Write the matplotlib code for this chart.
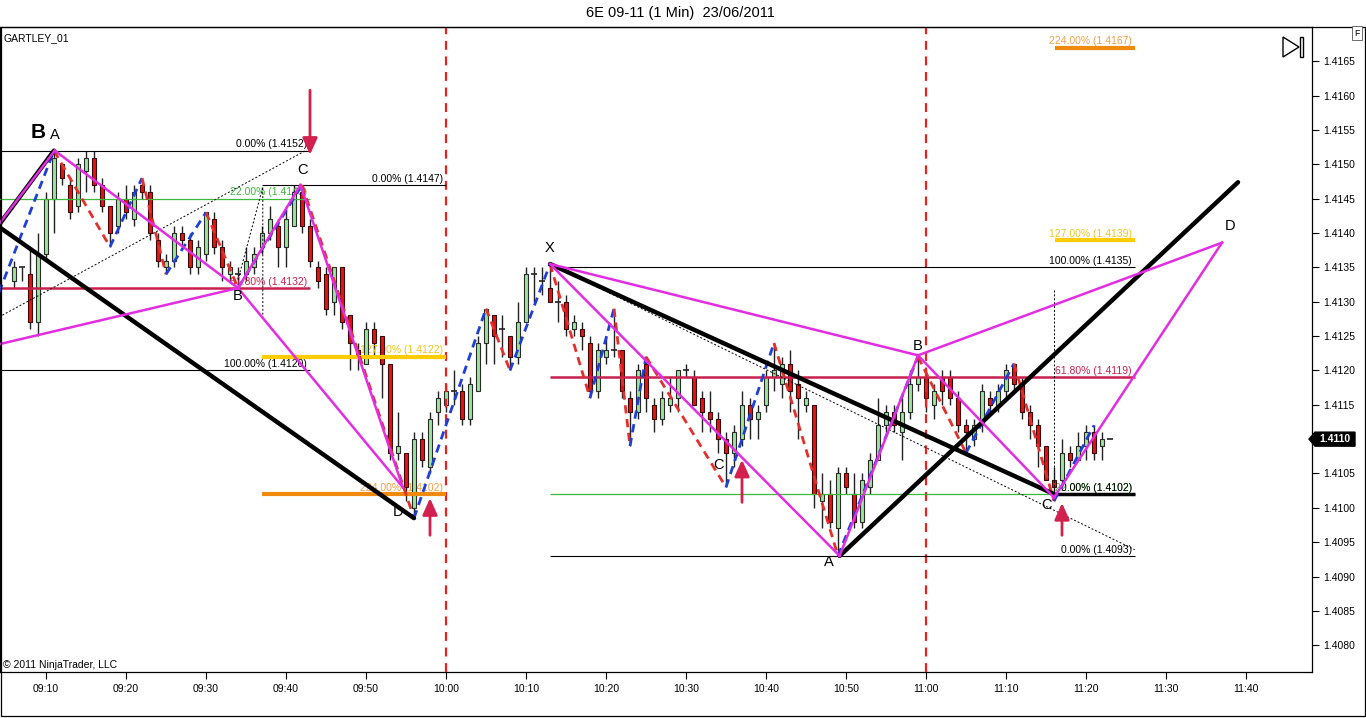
import numpy as np
import matplotlib.pyplot as plt
from matplotlib.patches import Polygon, Rectangle

plt.rcParams['font.family'] = ['Liberation Sans', 'DejaVu Sans']

W, H = 1366, 718

title = '6E 09-11 (1 Min)  23/06/2011'
indicator_name = 'GARTLEY_01'
copyright_txt = '\u00a9 2011 NinjaTrader, LLC'
last_price = 1.4110

# one minute bars, first one at 09:06
first_bar = '09:06'
opens = [1.4133, 1.4135, 1.4134, 1.4127, 1.4137, 1.4145, 1.4150, 1.4147, 1.4144, 1.4149,
         1.4151, 1.4147, 1.4144, 1.4141, 1.4145, 1.4142, 1.4147, 1.4146, 1.4139, 1.4135,
         1.4136, 1.4140, 1.4139, 1.4135, 1.4137, 1.4142, 1.4138, 1.4134, 1.4134, 1.4134,
         1.4135, 1.4138, 1.4140, 1.4141, 1.4138, 1.4141, 1.4146, 1.4141, 1.4135, 1.4134,
         1.4130, 1.4135, 1.4128, 1.4123, 1.4121, 1.4126, 1.4125, 1.4121, 1.4108, 1.4108,
         1.4100, 1.4110, 1.4106, 1.4114, 1.4115, 1.4117, 1.4117, 1.4113, 1.4117, 1.4124,
         1.4128, 1.4126, 1.4125, 1.4122, 1.4127, 1.4134, 1.4133, 1.4132, 1.4130, 1.4130,
         1.4126, 1.4126, 1.4124, 1.4117, 1.4122, 1.4123, 1.4123, 1.4116, 1.4114, 1.4121,
         1.4115, 1.4113, 1.4115, 1.4116, 1.4120, 1.4119, 1.4116, 1.4114, 1.4113, 1.4110,
         1.4108, 1.4110, 1.4115, 1.4113, 1.4115, 1.4119, 1.4118, 1.4121, 1.4118, 1.4115,
         1.4115, 1.4101, 1.4102, 1.4097, 1.4105, 1.4102, 1.4098, 1.4103, 1.4107, 1.4112,
         1.4114, 1.4111, 1.4114, 1.4118, 1.4119, 1.4115, 1.4119, 1.4119, 1.4116, 1.4112,
         1.4110, 1.4112, 1.4116, 1.4115, 1.4117, 1.4121, 1.4118, 1.4114, 1.4112, 1.4109,
         1.4104, 1.4104, 1.4108, 1.4107, 1.4109, 1.4111, 1.4109, 1.4110]
highs = [1.4136, 1.4135, 1.4138, 1.4140, 1.4146, 1.4152, 1.4150, 1.4148, 1.4151, 1.4152,
         1.4152, 1.4148, 1.4144, 1.4146, 1.4147, 1.4147, 1.4148, 1.4147, 1.4140, 1.4137,
         1.4141, 1.4141, 1.4140, 1.4139, 1.4143, 1.4143, 1.4139, 1.4136, 1.4135, 1.4138,
         1.4138, 1.4141, 1.4144, 1.4142, 1.4144, 1.4147, 1.4147, 1.4142, 1.4136, 1.4135,
         1.4135, 1.4135, 1.4128, 1.4124, 1.4127, 1.4127, 1.4125, 1.4121, 1.4114, 1.4108,
         1.4111, 1.4111, 1.4114, 1.4117, 1.4118, 1.4120, 1.4118, 1.4119, 1.4125, 1.4129,
         1.4128, 1.4128, 1.4125, 1.4130, 1.4135, 1.4135, 1.4135, 1.4135, 1.4133, 1.4131,
         1.4128, 1.4127, 1.4125, 1.4124, 1.4125, 1.4129, 1.4123, 1.4117, 1.4121, 1.4122,
         1.4116, 1.4117, 1.4119, 1.4120, 1.4121, 1.4120, 1.4117, 1.4117, 1.4114, 1.4111,
         1.4112, 1.4117, 1.4116, 1.4115, 1.4120, 1.4124, 1.4122, 1.4123, 1.4120, 1.4117,
         1.4115, 1.4105, 1.4104, 1.4106, 1.4106, 1.4105, 1.4105, 1.4108, 1.4116, 1.4115,
         1.4115, 1.4116, 1.4120, 1.4122, 1.4120, 1.4118, 1.4120, 1.4120, 1.4117, 1.4113,
         1.4113, 1.4118, 1.4117, 1.4118, 1.4121, 1.4121, 1.4119, 1.4115, 1.4113, 1.4109,
         1.4106, 1.4110, 1.4109, 1.4111, 1.4112, 1.4112, 1.4111, 1.4110]
lows = [1.4132, 1.4133, 1.4126, 1.4125, 1.4136, 1.4140, 1.4147, 1.4142, 1.4143, 1.4146,
        1.4146, 1.4143, 1.4138, 1.4140, 1.4142, 1.4141, 1.4145, 1.4139, 1.4135, 1.4134,
        1.4135, 1.4138, 1.4134, 1.4134, 1.4136, 1.4137, 1.4133, 1.4133, 1.4132, 1.4133,
        1.4134, 1.4137, 1.4139, 1.4135, 1.4135, 1.4141, 1.4140, 1.4135, 1.4132, 1.4128,
        1.4128, 1.4126, 1.4120, 1.4120, 1.4121, 1.4122, 1.4116, 1.4107, 1.4107, 1.4101,
        1.4099, 1.4106, 1.4105, 1.4112, 1.4114, 1.4115, 1.4112, 1.4112, 1.4117, 1.4121,
        1.4121, 1.4122, 1.4120, 1.4121, 1.4127, 1.4130, 1.4131, 1.4130, 1.4127, 1.4125,
        1.4125, 1.4123, 1.4116, 1.4116, 1.4121, 1.4122, 1.4116, 1.4109, 1.4113, 1.4114,
        1.4111, 1.4112, 1.4114, 1.4114, 1.4119, 1.4115, 1.4111, 1.4111, 1.4108, 1.4103,
        1.4106, 1.4109, 1.4110, 1.4110, 1.4114, 1.4117, 1.4116, 1.4114, 1.4110, 1.4114,
        1.4100, 1.4097, 1.4097, 1.4093, 1.4102, 1.4097, 1.4097, 1.4102, 1.4107, 1.4111,
        1.4111, 1.4107, 1.4113, 1.4117, 1.4114, 1.4113, 1.4115, 1.4115, 1.4111, 1.4108,
        1.4109, 1.4111, 1.4114, 1.4114, 1.4116, 1.4117, 1.4113, 1.4110, 1.4106, 1.4104,
        1.4101, 1.4103, 1.4106, 1.4107, 1.4107, 1.4107, 1.4107, 1.4110]
closes = [1.4135, 1.4135, 1.4127, 1.4137, 1.4145, 1.4151, 1.4148, 1.4143, 1.4150, 1.4151,
          1.4147, 1.4144, 1.4140, 1.4145, 1.4143, 1.4146, 1.4146, 1.4140, 1.4136, 1.4136,
          1.4140, 1.4139, 1.4135, 1.4138, 1.4143, 1.4138, 1.4135, 1.4135, 1.4134, 1.4136,
          1.4137, 1.4140, 1.4142, 1.4138, 1.4142, 1.4146, 1.4141, 1.4136, 1.4133, 1.4129,
          1.4135, 1.4127, 1.4124, 1.4122, 1.4126, 1.4124, 1.4121, 1.4108, 1.4109, 1.4103,
          1.4110, 1.4107, 1.4113, 1.4116, 1.4117, 1.4117, 1.4113, 1.4118, 1.4124, 1.4129,
          1.4125, 1.4126, 1.4122, 1.4127, 1.4134, 1.4134, 1.4133, 1.4130, 1.4130, 1.4126,
          1.4127, 1.4125, 1.4117, 1.4123, 1.4123, 1.4123, 1.4117, 1.4114, 1.4120, 1.4116,
          1.4113, 1.4116, 1.4116, 1.4120, 1.4120, 1.4115, 1.4114, 1.4113, 1.4110, 1.4108,
          1.4111, 1.4115, 1.4113, 1.4114, 1.4119, 1.4120, 1.4121, 1.4117, 1.4116, 1.4116,
          1.4102, 1.4102, 1.4098, 1.4105, 1.4103, 1.4098, 1.4104, 1.4107, 1.4112, 1.4114,
          1.4112, 1.4114, 1.4118, 1.4119, 1.4116, 1.4117, 1.4117, 1.4116, 1.4112, 1.4111,
          1.4112, 1.4117, 1.4115, 1.4117, 1.4120, 1.4118, 1.4114, 1.4112, 1.4109, 1.4104,
          1.4103, 1.4108, 1.4107, 1.4109, 1.4111, 1.4108, 1.4110, 1.4110]

x_labels = ['09:10', '09:20', '09:30', '09:40', '09:50', '10:00', '10:10', '10:20',
            '10:30', '10:40', '10:50', '11:00', '11:10', '11:20', '11:30', '11:40']
y_ticks = [1.4080, 1.4085, 1.4090, 1.4095, 1.4100, 1.4105, 1.4110, 1.4115, 1.4120,
           1.4125, 1.4130, 1.4135, 1.4140, 1.4145, 1.4150, 1.4155, 1.4160, 1.4165]
session_lines = ['10:00', '11:00']

# zigzag swing points
zz_times = ['09:04', '09:11', '09:18', '09:22', '09:25', '09:30', '09:34', '09:42', '09:56',
            '10:05', '10:08', '10:13', '10:18', '10:21', '10:23', '10:25', '10:35', '10:41',
            '10:49', '10:59', '11:05', '11:11', '11:16', '11:21']
zz_prices = [1.4131, 1.4152, 1.4138, 1.4148, 1.4134, 1.4143, 1.4132, 1.4147, 1.40985,
             1.4129, 1.4120, 1.41355, 1.4116, 1.4129, 1.4109, 1.4122, 1.4103, 1.4124,
             1.4093, 1.4122, 1.4108, 1.4121, 1.4101, 1.4112]

# gartley points X A B C D
left_pat_times = ['08:50.2', '09:11.1', '09:34', '09:41.8', '09:54.6']
left_pat_prices = [1.4120, 1.4152, 1.4132, 1.4147, 1.4103]
right_pat_times = ['10:13', '10:49.2', '10:59', '11:16', '11:37']
right_pat_prices = [1.41355, 1.4093, 1.41222, 1.41015, 1.41386]

# heavy black trend lines
black_lines = [(['09:11', '09:04', '09:56'], [1.4152, 1.4141, 1.40985]),
               (['10:13', '11:16'], [1.41355, 1.4102]),
               (['10:49.2', '11:39'], [1.4093, 1.41474])]

# thin dotted helper lines
dot_lines = [(['09:04', '09:42.6'], [1.41277, 1.41521]),
             (['09:34', '09:37.1', '09:37.1'], [1.41332, 1.41467, 1.41273]),
             (['10:13', '11:26.1'], [1.41355, 1.40939]),
             (['11:16', '11:16'], [1.41317, 1.41019])]

# fibonacci levels: start, end, price, text, kind
levels = [('09:04', '09:43', 1.4152, '0.00% (1.4152)', 'black'),
          ('09:04', '09:43', 1.4145, '22.00% (1.4145)', 'green'),
          ('09:04', '09:43', 1.4132, '61.80% (1.4132)', 'crimson'),
          ('09:04', '09:43', 1.4120, '100.00% (1.4120)', 'black'),
          ('09:37', '10:00', 1.4147, '0.00% (1.4147)', 'black'),
          ('09:37', '10:00', 1.4122, '127.00% (1.4122)', 'gold'),
          ('09:37', '10:00', 1.4102, '224.00% (1.4102)', 'orange'),
          ('10:13', '11:26.1', 1.4135, '100.00% (1.4135)', 'black'),
          ('10:13', '11:26.1', 1.4119, '61.80% (1.4119)', 'crimson'),
          ('10:13', '11:26.1', 1.4102, '22.00% (1.4102)', 'green'),
          ('10:13', '11:26.1', 1.4093, '0.00% (1.4093)', 'black'),
          ('11:16.1', '11:26.1', 1.4102, '0.00% (1.4102)', 'heavy'),
          ('11:16.1', '11:26.1', 1.4139, '127.00% (1.4139)', 'gold'),
          ('11:16.1', '11:26.1', 1.4167, '224.00% (1.4167)', 'orange')]

# signal arrows: time, tail price, tip price
arrows = [('09:43', 1.41608, 1.41514),
          ('09:58', 1.40960, 1.41014),
          ('10:37', 1.41008, 1.41070),
          ('11:17', 1.40960, 1.41007)]

# pattern letters
letters = [('A', '09:11.1', 1.41543), ('B', '09:34', 1.41308), ('C', '09:42', 1.41492),
           ('D', '09:54', 1.40994), ('X', '10:12.9', 1.41378), ('C', '10:34', 1.41062),
           ('A', '10:47.9', 1.40921), ('B', '10:59', 1.41236), ('C', '11:15.1', 1.41004),
           ('D', '11:38', 1.41410)]
big_letter = ('B', '09:09', 1.41546)


def tm(s):
    h, m = s.split(':')
    return int(h) * 60 + float(m)


def fx(x):
    return x / W


def fy(y):
    return 1 - y / H


level_style = {'black': ('black', 0.8, 'black'),
               'green': ('#3cb83c', 0.9, '#3cb83c'),
               'crimson': ('#c8204e', 1.8, '#c8204e'),
               'gold': ('#ffcc00', 3.0, '#f2c61a'),
               'orange': ('#f08a0c', 3.0, '#f2a048'),
               'heavy': ('black', 2.5, 'black')}

fig = plt.figure(figsize=(W / 100, H / 100), dpi=100)
ax = fig.add_axes([0, fy(672), fx(1312), (672 - 27) / H])
ax.set_xlim(544.25, 708.25)
ax.set_ylim(1.40761, 1.41700)

# candles
t = tm(first_bar) + np.arange(len(opens))
o, hi, lo, c = (np.array(v) for v in (opens, highs, lows, closes))
up, dn, dj = c > o, c < o, c == o
ax.vlines(t, lo, hi, color='#222222', lw=1, zorder=2)
ax.bar(t[up], (c - o)[up], bottom=o[up], width=0.62, color='#9ae69a',
       edgecolor='#2a2a2a', lw=0.8, zorder=2.5)
ax.bar(t[dn], (o - c)[dn], bottom=c[dn], width=0.62, color='#e31414',
       edgecolor='#3a0a0a', lw=0.8, zorder=2.5)
ax.hlines(o[dj], t[dj] - 0.32, t[dj] + 0.32, color='#222222', lw=1.2, zorder=2.5)

for s in session_lines:
    ax.axvline(tm(s), color='#e8231f', lw=1.6, ls=(0, (4, 3)), zorder=3)

# fibonacci levels
for a, b, p, txt, kind in levels:
    col, lw, tcol = level_style[kind]
    ax.plot([tm(a), tm(b)], [p, p], color=col, lw=lw, solid_capstyle='butt', zorder=3)
    ax.annotate(txt, xy=(tm(b), p), xytext=(-2, 1), textcoords='offset points',
                ha='right', va='bottom', fontsize=7.5, color=tcol, zorder=2.2)

# zigzag
zt = [tm(s) for s in zz_times]
for i in range(len(zt) - 1):
    col = '#1f3fd6' if zz_prices[i + 1] > zz_prices[i] else '#e2302c'
    ax.plot(zt[i:i + 2], zz_prices[i:i + 2], color=col, lw=2, ls=(0, (3, 2)), zorder=4)

for ts, ps in dot_lines:
    ax.plot([tm(s) for s in ts], ps, color='black', lw=0.7, ls=(0, (2, 2)), zorder=4)

for ts, ps in black_lines:
    ax.plot([tm(s) for s in ts], ps, color='black', lw=3.2, solid_capstyle='round', zorder=5)

segs = [(0, 1), (1, 2), (2, 3), (3, 4), (0, 2), (2, 4)]
for ts, ps in ((left_pat_times, left_pat_prices), (right_pat_times, right_pat_prices)):
    xs = [tm(s) for s in ts]
    for i, j in segs:
        ax.plot([xs[i], xs[j]], [ps[i], ps[j]], color='#e22de2', lw=1.8, zorder=6)

for s, p0, p1 in arrows:
    ax.annotate('', xy=(tm(s), p1), xytext=(tm(s), p0),
                arrowprops=dict(arrowstyle='-|>,head_length=1.0,head_width=0.45',
                                color='#d3214f', lw=2, shrinkA=0, shrinkB=0), zorder=7)

for txt, s, p in letters:
    ax.text(tm(s), p, txt, ha='center', va='center', fontsize=10.5, zorder=8)
ax.text(tm(big_letter[1]), big_letter[2], big_letter[0], ha='center', va='center',
        fontsize=15, fontweight='bold', zorder=8)

# axes (the last price tag replaces its own tick label)
ax.yaxis.tick_right()
ax.set_yticks(y_ticks)
ax.set_yticklabels(['' if abs(v - last_price) < 1e-9 else '%.4f' % v for v in y_ticks])
ax.set_xticks([tm(s) for s in x_labels])
ax.set_xticklabels(x_labels)
ax.tick_params(axis='y', direction='out', length=5, width=0.8, labelsize=7.5, pad=3)
ax.tick_params(axis='x', direction='out', length=5, width=0.8, labelsize=7.5, pad=4)
for sp in ax.spines.values():
    sp.set_linewidth(0.9)

# outer frame and decorations
fig.add_artist(Rectangle((fx(0.5), fy(716)), fx(1364.5), (716 - 27) / H, fill=False,
                         ec='black', lw=0.9, transform=fig.transFigure))
fig.text(fx(680), fy(13), title, ha='center', va='center', fontsize=10.5)
fig.text(fx(4), fy(38), indicator_name, ha='left', va='center', fontsize=7.5)
fig.text(fx(3), fy(665), copyright_txt, ha='left', va='center', fontsize=7.5)
fig.text(fx(1357), fy(33), 'F', ha='center', va='center', fontsize=6.5,
         bbox=dict(boxstyle='square,pad=0.25', fc='white', ec='#555555', lw=0.6))

fig.add_artist(Polygon([(fx(1283), fy(37)), (fx(1299), fy(47)), (fx(1283), fy(57))],
                       closed=True, fill=False, ec='black', lw=1, transform=fig.transFigure))
fig.add_artist(Rectangle((fx(1300), fy(57)), fx(3), 20 / H, fill=False, ec='black', lw=1,
                         transform=fig.transFigure))

# last price marker
yp = 27 + (1.41700 - last_price) / (1.41700 - 1.40761) * 645
fig.add_artist(Polygon([(fx(1309), fy(yp)), (fx(1315), fy(yp - 7)), (fx(1355), fy(yp - 7)),
                        (fx(1355), fy(yp + 7)), (fx(1315), fy(yp + 7))],
                       closed=True, fc='black', ec='black', transform=fig.transFigure, zorder=5))
fig.text(fx(1335), fy(yp), '%.4f' % last_price, ha='center', va='center', fontsize=7.5,
         color='white', fontweight='bold', zorder=6)

fig.savefig('out.png', dpi=100)
